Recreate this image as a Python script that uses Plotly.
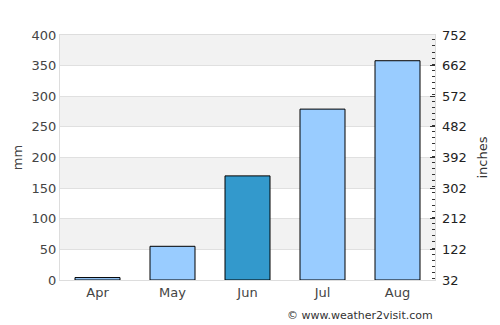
import plotly.graph_objects as go

months = ["Apr", "May", "Jun", "Jul", "Aug"]
rain_mm = [4, 55, 170, 279, 358]
bar_colors = ["#99ccff", "#99ccff", "#3399cc", "#99ccff", "#99ccff"]
left_ticks = [0, 50, 100, 150, 200, 250, 300, 350, 400]
right_ticks = [32, 122, 212, 302, 392, 482, 572, 662, 752]

fig = go.Figure()
fig.add_trace(go.Bar(x=months, y=rain_mm, marker=dict(color=bar_colors, line=dict(color="black", width=1)),
                     width=0.6, showlegend=False, hoverinfo="skip"))
# invisible trace for right axis
fig.add_trace(go.Scatter(x=months, y=[None]*len(months), yaxis="y2", showlegend=False, hoverinfo="skip"))

# alternating bands
for i in range(1, 8, 2):
    fig.add_shape(type="rect", xref="paper", yref="y", x0=0, x1=1, y0=left_ticks[i], y1=left_ticks[i+1],
                  fillcolor="#f2f2f2", line_width=0, layer="below")

font = "DejaVu Sans, sans-serif"
fig.update_layout(
    width=500, height=325,
    margin=dict(l=60, r=65, t=35, b=45),
    paper_bgcolor="white", plot_bgcolor="white",
    font=dict(family=font, size=13, color="#333"),
    xaxis=dict(showgrid=False, showline=True, linecolor="#dddddd", mirror=True, ticks="",
               tickfont=dict(size=13, color="#444")),
    yaxis=dict(range=[0, 400], tickvals=left_ticks, showgrid=True, gridcolor="#e0e0e0",
               showline=True, linecolor="#dddddd", mirror=True, zeroline=False, ticks="",
               title=dict(text="mm", standoff=6, font=dict(size=13, color="#444")),
               tickfont=dict(size=13, color="#444")),
    yaxis2=dict(range=[32, 752], tickvals=right_ticks, overlaying="y", side="right",
                showgrid=False, zeroline=False, ticks="inside", ticklen=5, tickcolor="#333",
                ticklabelstandoff=6,
                minor=dict(ticks="inside", ticklen=3, dtick=18, tickcolor="#333"),
                title=dict(text="inches", standoff=12, font=dict(size=13, color="#333")),
                tickfont=dict(size=13, color="#222")),
    bargap=0.4,
)
fig.add_annotation(text="© www.weather2visit.com", xref="paper", yref="paper", x=1.0, y=-0.11,
                   xanchor="right", yanchor="top", showarrow=False, font=dict(size=11, color="#333"))
fig.write_html("out.html")
